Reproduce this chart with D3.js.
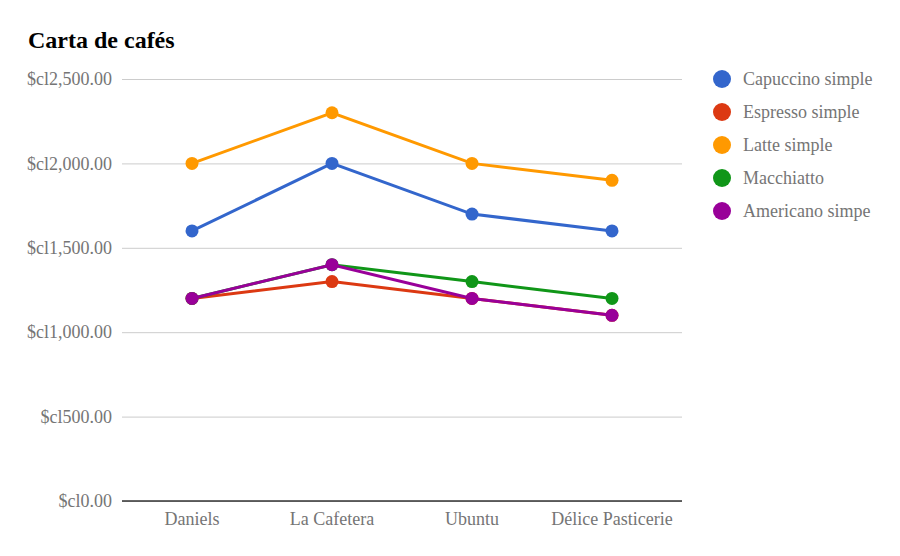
<!DOCTYPE html>
<html><head><meta charset="utf-8">
<script src="https://cdn.jsdelivr.net/npm/d3@7"></script>
<style>body{margin:0;background:#fff}svg{display:block}</style>
</head><body><svg id="c" width="900" height="556"></svg>
<script>
const categories = ["Daniels", "La Cafetera", "Ubuntu", "Délice Pasticerie"];
const seriesNames = ["Capuccino simple", "Espresso simple", "Latte simple", "Macchiatto", "Americano simpe"];
const capuccino = [1600, 2000, 1700, 1600];
const espresso = [1200, 1300, 1200, 1100];
const latte = [2000, 2300, 2000, 1900];
const macchiatto = [1200, 1400, 1300, 1200];
const americano = [1200, 1400, 1200, 1100];
const colors = ["#3366cc", "#dc3912", "#ff9900", "#109618", "#990099"];
const yTicks = [0, 500, 1000, 1500, 2000, 2500];

(function () {
const seriesValues = [capuccino, espresso, latte, macchiatto, americano];
const svg = d3.select("#c");
const font = "'Liberation Serif', 'Times New Roman', serif";
const pLeft = 122, pRight = 682, pTop = 79, pBottom = 501;
const x = d3.scaleBand().domain(categories).range([pLeft, pRight]);
const y = d3.scaleLinear().domain([0, 2500]).range([pBottom, pTop]);
const fmt = v => "$cl" + d3.format(",.2f")(v);

svg.append("text").attr("x", 28).attr("y", 48).attr("font-family", font)
  .attr("font-size", 24).attr("font-weight", "bold").attr("fill", "#000").text("Carta de cafés");

const yAxis = svg.append("g").attr("transform", `translate(${pLeft},0)`)
  .call(d3.axisLeft(y).tickValues(yTicks).tickSize(-(pRight - pLeft)).tickFormat(fmt));
yAxis.select(".domain").remove();
yAxis.selectAll(".tick line").attr("stroke", "#cccccc");
yAxis.selectAll(".tick text").attr("x", -10).attr("font-family", font).attr("font-size", 18).attr("fill", "#757575");

svg.append("line").attr("x1", pLeft).attr("x2", pRight).attr("y1", y(0)).attr("y2", y(0))
  .attr("stroke", "#333").attr("stroke-width", 1.5);

const xAxis = svg.append("g").attr("transform", `translate(0,${pBottom})`)
  .call(d3.axisBottom(x).tickSize(0));
xAxis.select(".domain").remove();
xAxis.selectAll(".tick text").attr("dy", 0).attr("y", 24).attr("font-family", font).attr("font-size", 18).attr("fill", "#757575");

const cx = c => x(c) + x.bandwidth() / 2;
const line = d3.line().x((d, i) => cx(categories[i])).y(d => y(d));
seriesValues.forEach((vals, si) => {
  svg.append("path").datum(vals).attr("d", line).attr("fill", "none")
    .attr("stroke", colors[si]).attr("stroke-width", 3);
  svg.selectAll(null).data(vals).enter().append("circle")
    .attr("cx", (d, i) => cx(categories[i])).attr("cy", d => y(d)).attr("r", 6.5)
    .attr("fill", colors[si]);
});

const legend = svg.append("g");
seriesNames.forEach((n, i) => {
  const ly = 79 + i * 33;
  legend.append("circle").attr("cx", 722).attr("cy", ly).attr("r", 9).attr("fill", colors[i]);
  legend.append("text").attr("x", 743).attr("y", ly + 6).attr("font-family", font)
    .attr("font-size", 18).attr("fill", "#757575").text(n);
});
})();
</script></body></html>
